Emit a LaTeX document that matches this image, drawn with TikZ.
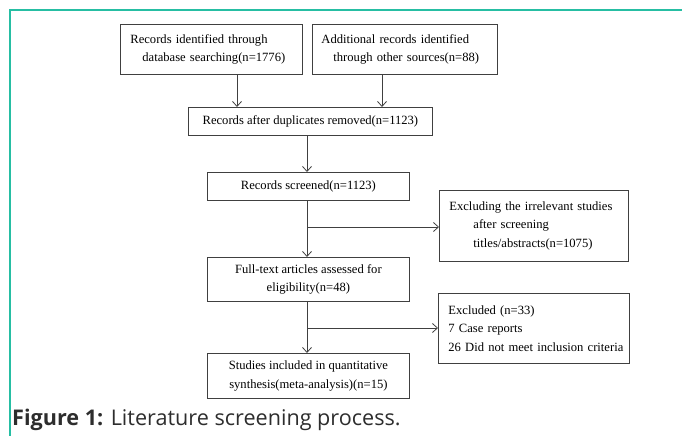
\documentclass[tikz,border=0pt]{standalone}
\usepackage{fontspec}
\setmainfont{Liberation Serif}
\newfontfamily\capfont{Open Sans}
\usetikzlibrary{arrows.meta,calc}
\definecolor{teal1}{RGB}{38,190,163}
\definecolor{capgray}{RGB}{45,45,45}
\begin{document}
\begin{tikzpicture}[x=1pt,y=-1pt,
  box/.style={draw=black!75, line width=0.8pt, rectangle, inner sep=0pt, anchor=north west, font=\fontsize{12.6}{18.5}\selectfont},
  arr/.style={draw=black!75, line width=0.8pt, -{Straight Barb[length=5pt,width=9pt]}},
  frame/.style={draw=teal1, line width=1.5pt}]
\useasboundingbox (0,0) rectangle (682,436);
\draw[frame] (682,10) -- (10,10) -- (10,436);

\node[box, minimum width=182pt, minimum height=50pt, text width=172pt, align=left] (r1) at (120,24)
  {\hspace*{5pt}Records identified through\\\hspace*{17pt}database searching(n=1776)};
\node[box, minimum width=185pt, minimum height=50pt, text width=175pt, align=left] (r2) at (312,24)
  {\hspace*{4pt}Additional records identified\\\hspace*{16pt}through other sources(n=88)};
\node[box, minimum width=244pt, minimum height=28pt, align=center] (r3) at (188,107)
  {Records after duplicates removed(n=1123)};
\node[box, minimum width=202pt, minimum height=28pt, align=center] (r4) at (207,172)
  {Records screened(n=1123)};
\node[box, minimum width=189pt, minimum height=71pt, text width=179pt, align=left] (r5) at (439,190)
  {\hspace*{5pt}Excluding the irrelevant studies\\\hspace*{29pt}after screening\\\hspace*{29pt}titles/abstracts(n=1075)};
\node[box, minimum width=202pt, minimum height=44pt, align=center] (r6) at (207,257)
  {Full-text articles assessed for\\eligibility(n=48)};
\node[box, minimum width=191pt, minimum height=70pt, text width=185pt, align=left] (r8) at (438,293)
  {\hspace*{7pt}Excluded (n=33)\\\hspace*{7pt}7 Case reports\\\hspace*{7pt}26 Did not meet inclusion criteria};
\node[box, minimum width=202pt, minimum height=45pt, align=center] (r7) at (207,353)
  {Studies included in quantitative\\synthesis(meta-analysis)(n=15)};

\node[anchor=base west, inner sep=0pt, text=capgray, font=\capfont\fontsize{21.6}{24}\selectfont] (cap) at (12,425)
  {\textbf{Figure 1:} Literature screening process.};

\coordinate (ca) at (237,0);
\coordinate (cb) at (382,0);
\coordinate (cm) at (307,0);
\draw[arr] (r1.south -| ca) -- (r3.north -| ca);
\draw[arr] (r2.south -| cb) -- (r3.north -| cb);
\draw[arr] (r3.south -| cm) -- (r4.north -| cm);
\draw[arr] (r4.south -| cm) -- (r6.north -| cm);
\coordinate (j1) at (307,227);
\draw[arr] (j1) -- (j1 -| r5.west);
\draw[arr] (r6.south -| cm) -- (r7.north -| cm);
\coordinate (j2) at (307,328);
\draw[arr] (j2) -- (j2 -| r8.west);
\end{tikzpicture}
\end{document}
